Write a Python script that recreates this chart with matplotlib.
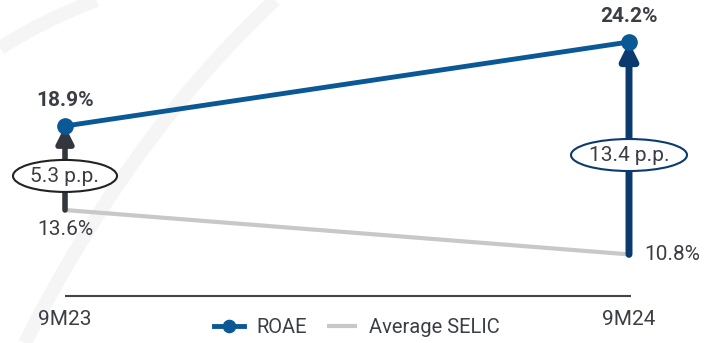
import numpy as np
import matplotlib.pyplot as plt
from matplotlib.path import Path
from matplotlib.patches import PathPatch, Ellipse

plt.rcParams['font.family'] = ['Roboto', 'DejaVu Sans']

periods = ['9M23', '9M24']
roae = [18.9, 24.2]
selic = [13.6, 10.8]
spread_labels = ['5.3 p.p.', '13.4 p.p.']

blue = '#0b5896'
navy = '#0b3a6e'
dark = '#33363d'
grey_line = '#c8c8c8'
text_col = '#3b3e45'

fig = plt.figure(figsize=(7.14, 3.43), dpi=100)

# faint watermark arcs in the background
for verts in [[(0.0, 0.86), (0.06, 0.94), (0.135, 1.0)],
              [(0.385, 1.0), (0.18, 0.6), (0.035, 0.0)]]:
    p = Path(verts, [Path.MOVETO, Path.CURVE3, Path.CURVE3])
    fig.add_artist(PathPatch(p, fc='none', ec='#f5f5f5', lw=10,
                             transform=fig.transFigure, zorder=0))

ax = fig.add_axes([0, 0, 1, 1])
ax.patch.set_alpha(0)
x = np.arange(len(periods))
ax.set_xlim(-65 / 564, 1 + 85 / 564)
ax.set_ylim(5.21, 26.85)
ax.axis('off')

# data units per pixel
px_x = 1 / 564
px_y = 21.64 / 343

ax.plot(x, selic, color=grey_line, lw=3, solid_capstyle='butt', zorder=2,
        label='Average SELIC')
ax.plot(x, roae, color=blue, lw=3.5, marker='o', ms=11, zorder=5, label='ROAE')

# spread arrows with ellipse labels
arrow_cols = [dark, navy]
ring_cols = ['#222222', navy]
arrow_lw = [4, 5]
label_y = [15.75, 17.07]
ell_w = [104, 116]
for i in range(len(periods)):
    ax.annotate('', xy=(x[i], roae[i]), xytext=(x[i], selic[i]),
                arrowprops=dict(arrowstyle='-|>,head_length=1.0,head_width=0.5',
                                color=arrow_cols[i], lw=arrow_lw[i],
                                shrinkA=0, shrinkB=0), zorder=4)
    ax.add_patch(Ellipse((x[i], label_y[i]), ell_w[i] * px_x, 32 * px_y,
                         fc='white', ec=ring_cols[i], lw=1.5, zorder=6))
    ax.text(x[i], label_y[i] - 0.05, spread_labels[i], ha='center', va='center',
            fontsize=15, color=text_col, zorder=7)

# value labels
ax.text(x[0], roae[0] + 1.0, f'{roae[0]}%', ha='center', va='bottom',
        fontsize=15, fontweight='bold', color=text_col)
ax.text(x[1], roae[1] + 1.0, f'{roae[1]}%', ha='center', va='bottom',
        fontsize=15, fontweight='bold', color=text_col)
ax.text(x[0], selic[0] - 0.6, f'{selic[0]}%', ha='center', va='top',
        fontsize=15, color=text_col)
ax.text(x[1] + 0.028, selic[1], f'{selic[1]}%', ha='left', va='center',
        fontsize=15, color=text_col)

# baseline and category labels
ax.hlines(8.17, x[0], x[1] + 0.004, color='#444444', lw=1.5)
for i, p in enumerate(periods):
    ax.text(x[i], 7.3, p, ha='center', va='top', fontsize=15, color=text_col)

handles, labels = ax.get_legend_handles_labels()
ax.legend(handles[::-1], labels[::-1], loc='center', bbox_to_anchor=(0.5, 0.045),
          ncol=2, frameon=False, fontsize=14.5, labelcolor=text_col,
          handlelength=1.5, columnspacing=1.0, handletextpad=0.6, markerscale=0.8)

fig.savefig('out.png', dpi=100)
